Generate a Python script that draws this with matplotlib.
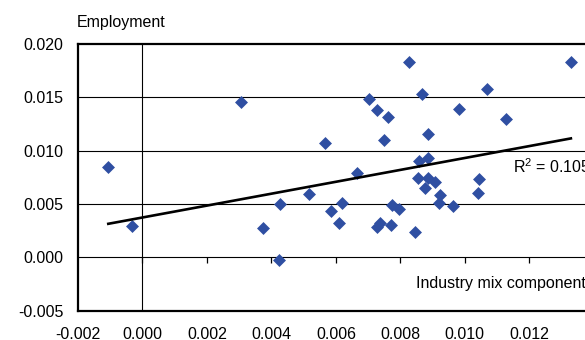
import numpy as np
import matplotlib
matplotlib.use("Agg")
import matplotlib.pyplot as plt

plt.rcParams['font.family'] = ['Liberation Sans', 'DejaVu Sans']
plt.rcParams['mathtext.fontset'] = 'custom'
plt.rcParams['mathtext.rm'] = 'Liberation Sans'
plt.rcParams['mathtext.default'] = 'regular'
plt.rcParams['axes.unicode_minus'] = False

# industry mix component (x) vs employment (y)
mix = [-0.00106, -0.00033, 0.00305, 0.00374, 0.00426, 0.00423, 0.00566, 0.00703,
       0.00729, 0.00763, 0.00828, 0.00868, 0.00749, 0.00885, 0.00982, 0.01070,
       0.01127, 0.01329, 0.00516, 0.00665, 0.00584, 0.00619, 0.00611, 0.00728,
       0.00737, 0.00771, 0.00774, 0.00797, 0.00846, 0.00858, 0.00887, 0.00856,
       0.00887, 0.00908, 0.00876, 0.00923, 0.00921, 0.00964, 0.01045, 0.01040]
emp = [0.00847, 0.00296, 0.01453, 0.00275, 0.00502, -0.00025, 0.01075, 0.01487,
       0.01384, 0.01318, 0.01831, 0.01528, 0.01097, 0.01159, 0.01393, 0.01578,
       0.01294, 0.01831, 0.00591, 0.00787, 0.00434, 0.00506, 0.00319, 0.00281,
       0.00322, 0.00303, 0.00490, 0.00453, 0.00240, 0.00906, 0.00928, 0.00741,
       0.00741, 0.00709, 0.00647, 0.00584, 0.00506, 0.00481, 0.00731, 0.00600]

# linear trend
slope = 0.558
intercept = 0.00373
r_squared = 0.105

xticks = [-0.002, 0.000, 0.002, 0.004, 0.006, 0.008, 0.010, 0.012]
xlabels = ["-0.002", "0.000", "0.002", "0.004", "0.006", "0.008", "0.010", "0.012"]
x_max = 0.014
yticks = [-0.005, 0.000, 0.005, 0.010, 0.015, 0.020]
ylabels = ["-0.005", "0.000", "0.005", "0.010", "0.015", "0.020"]

fs = 11.5

fig = plt.figure(figsize=(5.85, 3.40), dpi=100)
ax = fig.add_axes([0.1333, 0.0865, 0.8817, 0.7841])
ax.set_xlim(xticks[0], x_max)
ax.set_ylim(yticks[0], yticks[-1])

# horizontal gridlines and the zero axes
for y in yticks[1:-1]:
    ax.axhline(y, color='black', lw=0.8, zorder=1)
ax.axvline(0, color='black', lw=0.8, zorder=1)

# tick marks sit on the zero line
ax.plot(xticks[1:], np.zeros(len(xticks) - 1), ls='none', marker=3, ms=4,
        mew=0.9, color='black', zorder=1)

ax.scatter(mix, emp, marker='D', s=6.6 ** 2, color='#2f4fa2', linewidths=0, zorder=3)

xs = np.array([min(mix), max(mix)])
ax.plot(xs, slope * xs + intercept, color='black', lw=1.9, zorder=4)

ax.text(0.01148, 0.00853, "R$^2$ = %.3f" % r_squared, fontsize=fs, va='center', ha='left')
ax.text(0.00850, -0.00244, "Industry mix component", fontsize=fs, va='center', ha='left',
        clip_on=False)
fig.text(77 / 585, 1 - 22 / 340, "Employment", fontsize=fs, va='center', ha='left')

ax.set_xticks(xticks)
ax.set_xticklabels(xlabels, fontsize=fs)
ax.set_yticks(yticks)
ax.set_yticklabels(ylabels, fontsize=fs)
ax.tick_params(axis='x', length=0, pad=11.5)
ax.tick_params(axis='y', length=0, pad=10.5)

for side in ['left', 'top', 'bottom']:
    ax.spines[side].set_linewidth(1.6)
ax.spines['right'].set_visible(False)

fig.savefig("out.png", dpi=100)
